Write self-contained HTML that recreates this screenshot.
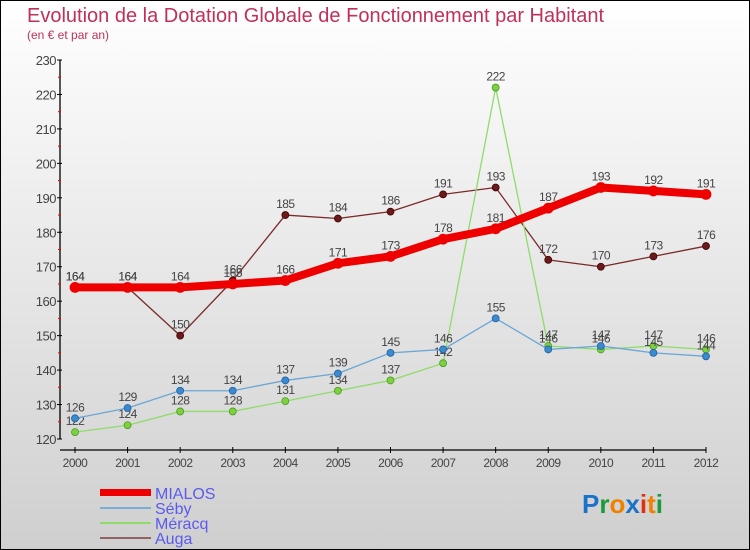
<!DOCTYPE html>
<html><head><meta charset="utf-8"><style>
body{margin:0}
svg{display:block;font-family:"Liberation Sans",sans-serif}
</style></head><body>
<svg width="750" height="550" viewBox="0 0 750 550" id="c">
<defs><linearGradient id="bg" x1="0" y1="0" x2="0" y2="1"><stop offset="0" stop-color="#ffffff"/><stop offset="1" stop-color="#cfcfcf"/></linearGradient></defs>
<rect x="0.5" y="0.5" width="749" height="549" fill="url(#bg)" stroke="#000"/>
<text x="27" y="22" font-size="20" fill="#c0305a">Evolution de la Dotation Globale de Fonctionnement par Habitant</text>
<text x="27" y="39" font-size="12" fill="#c0305a">(en € et par an)</text>
<g id="axes"></g><g id="series"></g>
<g>
<rect x="100" y="489" width="51" height="7" fill="#e00"/>
<text x="155" y="499" font-size="16" fill="#5a5af0">MIALOS</text>
<line x1="100" y1="508" x2="151" y2="508" stroke="#7aaed6" stroke-width="2"/>
<text x="155" y="514" font-size="16" fill="#5a5af0">Séby</text>
<line x1="100" y1="523" x2="151" y2="523" stroke="#8fdc6a" stroke-width="2"/>
<text x="155" y="529" font-size="16" fill="#5a5af0">Méracq</text>
<line x1="100" y1="538" x2="151" y2="538" stroke="#946262" stroke-width="2"/>
<text x="155" y="544" font-size="16" fill="#5a5af0">Auga</text>
</g>
<g font-size="26" font-weight="bold">
<text x="582" y="513"><tspan fill="#1a73c8">P</tspan><tspan fill="#1a9a3a">r</tspan><tspan fill="#f08000">o</tspan><tspan fill="#1a73c8">x</tspan><tspan fill="#e03010">i</tspan><tspan fill="#f08000">t</tspan><tspan fill="#1a9a3a">i</tspan></text>
</g>
</svg>
<script>
const years=[2000,2001,2002,2003,2004,2005,2006,2007,2008,2009,2010,2011,2012];
const yTicks=[120,130,140,150,160,170,180,190,200,210,220,230];
const mialos=[164,164,164,165,166,171,173,178,181,187,193,192,191];
const seby=[126,129,134,134,137,139,145,146,155,146,147,145,144];
const meracq=[122,124,128,128,131,134,137,142,222,147,146,147,146];
const auga=[164,164,150,166,185,184,186,191,193,172,170,173,176];
const NS='http://www.w3.org/2000/svg';
const X=i=>75+i*(706-75)/12;
const Y=v=>439-(v-120)*(439-60)/110;
function mk(t,a,p){const e=document.createElementNS(NS,t);for(const k in a)e.setAttribute(k,a[k]);p.appendChild(e);return e;}
const ax=document.getElementById('axes');
const yl=mk('line',{x1:60,y1:Y(230),x2:60,y2:Y(120),stroke:'#000','stroke-width':1.3},ax);


yTicks.forEach(v=>{
 mk('line',{x1:57,y1:Y(v),x2:62,y2:Y(v),stroke:'#000'},ax);
 if(v<230) mk('line',{x1:58,y1:Y(v+5),x2:61,y2:Y(v+5),stroke:'#e00'},ax);
 const t=mk('text',{x:56,y:Y(v)+5,'font-size':13,fill:'#444','text-anchor':'end','letter-spacing':'-0.5'},ax);
 t.textContent=v;
 
 
});
const xl=mk('line',{x1:60,y1:450,x2:X(12),y2:450,stroke:'#000','stroke-width':1.3},ax);


years.forEach((y,i)=>{
 mk('line',{x1:X(i),y1:447,x2:X(i),y2:453,stroke:'#000'},ax);
 const t=mk('text',{x:X(i),y:467,'font-size':12,fill:'#444','text-anchor':'middle','letter-spacing':'-0.5'},ax);
 t.textContent=y;
 
 
});
const sg=document.getElementById('series');
function series(name,data,color,w,dot,dotStroke){
 const g=mk('g',{},sg);
 
 
 const pts=data.map((v,i)=>X(i)+','+Y(v)).join(' ');
 const l=mk('polyline',{points:pts,fill:'none',stroke:color,'stroke-width':w,'stroke-linejoin':'round','stroke-linecap':'round'},g);
 
 
 data.forEach((v,i)=>{
  const c=mk('circle',{cx:X(i),cy:Y(v),r:w>4?5:3.5,fill:dot,stroke:dotStroke,'stroke-width':0.8},g);
  
  
  const t=mk('text',{x:X(i),y:Y(v)-7,'font-size':12,fill:'#444','text-anchor':'middle','letter-spacing':'-0.5'},g);
  t.textContent=v;
  
  
 });
}
series('auga',auga,'#7a2a2a',1.3,'#6a1a1a','#400');
series('meracq',meracq,'#8fdc6a',1.3,'#7ed040','#4a9a20');
series('seby',seby,'#6aa6d6',1.3,'#3a8ad0','#2060a0');
series('mialos',mialos,'#e00',8,'#e00','#e00');
</script>
</body></html>
